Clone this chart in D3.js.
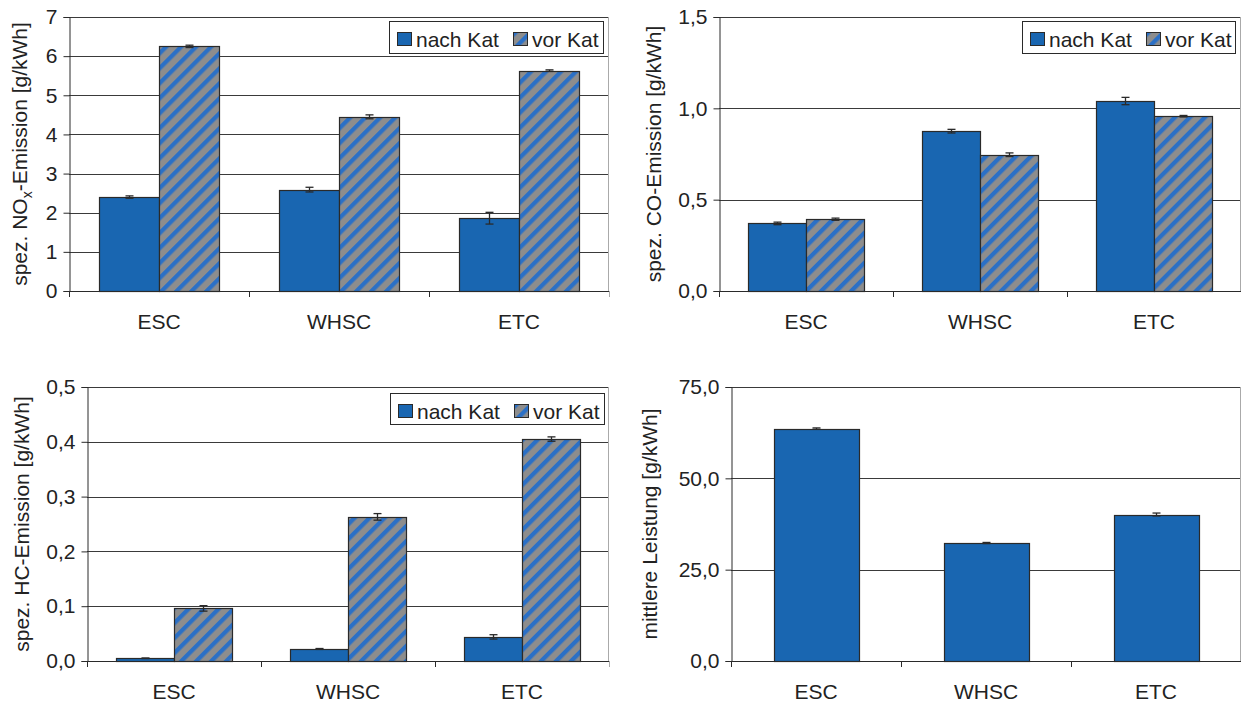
<!DOCTYPE html>
<html>
<head>
<meta charset="utf-8">
<script src="https://cdn.jsdelivr.net/npm/d3@7"></script>
<style>
  html, body { margin: 0; padding: 0; background: #fff; }
  svg text { font-family: "Liberation Sans", Arial, sans-serif; fill: #222; }
</style>
</head>
<body>
<svg id="chart" width="1241" height="704"></svg>
<script>
// ---------- data ----------
const categories = ["ESC", "WHSC", "ETC"];
const seriesNames = ["nach Kat", "vor Kat"];

const noxNach    = [2.40, 2.59, 1.86];
const noxNachErr = [0.03, 0.06, 0.15];
const noxVor     = [6.25, 4.45, 5.63];
const noxVorErr  = [0.03, 0.05, 0.02];

const coNach     = [0.370, 0.875, 1.040];
const coNachErr  = [0.007, 0.010, 0.020];
const coVor      = [0.393, 0.746, 0.957];
const coVorErr   = [0.006, 0.010, 0.004];

const hcNach     = [0.005, 0.022, 0.044];
const hcNachErr  = [0.0005, 0.0008, 0.004];
const hcVor      = [0.096, 0.263, 0.405];
const hcVorErr   = [0.005, 0.006, 0.004];

const power      = [63.6, 32.3, 40.1];
const powerErr   = [0.2, 0.15, 0.4];

const noxTicks   = [0, 1, 2, 3, 4, 5, 6, 7];
const coTicks    = [0, 0.5, 1.0, 1.5];
const hcTicks    = [0, 0.1, 0.2, 0.3, 0.4, 0.5];
const powerTicks = [0, 25, 50, 75];

// ---------- styling ----------
const BLUE = "#1966b1";
const GRAY = "#8d8d8d";
const STRIPE = "#2b70c6";
const FONT = 21;

const de = d3.formatLocale({decimal: ",", thousands: ".", grouping: [3], currency: ["", "€"]});
const f0 = d3.format("d");
const f1 = de.format(".1f");

const svg = d3.select("#chart");
const defs = svg.append("defs");
const pat = defs.append("pattern")
  .attr("id", "hatch")
  .attr("patternUnits", "userSpaceOnUse")
  .attr("width", 10.6).attr("height", 10.6)
  .attr("patternTransform", "rotate(45)");
pat.append("rect").attr("width", 10.6).attr("height", 10.6).attr("fill", GRAY);
pat.append("rect").attr("x", 0).attr("width", 4.3).attr("height", 10.6).attr("fill", STRIPE);

const fills = [BLUE, "url(#hatch)"];

function panel(opt) {
  const {left, right, top, bottom, ticks, fmt, title, series, errs, legend, titleX, single} = opt;
  const g = svg.append("g");
  const y = d3.scaleLinear().domain([0, ticks[ticks.length - 1]]).range([bottom, top]);
  const x = d3.scaleBand().domain(categories).range([left, right]).padding(0);
  const W = x.bandwidth();

  // grid lines
  g.append("g").selectAll("line").data(ticks.slice(1)).join("line")
    .attr("x1", left).attr("x2", right)
    .attr("y1", d => Math.round(y(d)) + 0.5).attr("y2", d => Math.round(y(d)) + 0.5)
    .attr("stroke", "#3a3a3a").attr("stroke-width", 1);
  // right frame
  g.append("line").attr("x1", right - 0.5).attr("x2", right - 0.5)
    .attr("y1", top).attr("y2", bottom).attr("stroke", "#aaa");

  // bars
  const inner = d3.scaleBand().domain(d3.range(series.length))
    .range(single ? [W / 4, W * 3 / 4] : [W / 6, W * 5 / 6]).padding(0);
  series.forEach((vals, si) => {
    const bw = inner.bandwidth();
    g.append("g").selectAll("rect").data(vals).join("rect")
      .attr("x", (d, i) => Math.round(x(categories[i]) + inner(si)) + 0.5)
      .attr("y", d => Math.round(y(d)) + 0.5)
      .attr("width", Math.round(bw))
      .attr("height", d => Math.round(y(0)) - Math.round(y(d)))
      .attr("fill", fills[si])
      .attr("stroke", "#2a2a2a").attr("stroke-width", 1.2);
    // error bars
    const eg = g.append("g").attr("stroke", "#2a2a2a").attr("stroke-width", 1.3);
    vals.forEach((d, i) => {
      const cx = Math.round(x(categories[i]) + inner(si) + bw / 2) + 0.5;
      const e = errs[si][i];
      const y1 = y(d + e), y2 = y(Math.max(0, d - e));
      eg.append("line").attr("x1", cx).attr("x2", cx).attr("y1", y1).attr("y2", y2);
      eg.append("line").attr("x1", cx - 4).attr("x2", cx + 4).attr("y1", y1).attr("y2", y1);
      eg.append("line").attr("x1", cx - 4).attr("x2", cx + 4).attr("y1", y2).attr("y2", y2);
    });
  });

  // y axis
  const ya = d3.axisLeft(y).tickValues(ticks).tickFormat(fmt).tickSize(6).tickPadding(6);
  const yg = g.append("g").attr("transform", `translate(${left + 0.5},0)`).call(ya);
  yg.select(".domain").attr("stroke", "#2a2a2a");
  yg.selectAll(".tick line").attr("stroke", "#2a2a2a");
  yg.selectAll(".tick text").attr("font-size", FONT).attr("fill", "#222")
    .attr("font-family", '"Liberation Sans", Arial, sans-serif');

  // x axis line + ticks at category boundaries
  const xg = g.append("g");
  xg.append("line").attr("x1", left).attr("x2", right)
    .attr("y1", Math.round(bottom) + 0.5).attr("y2", Math.round(bottom) + 0.5)
    .attr("stroke", "#2a2a2a");
  const bounds = categories.map(c => x(c)).concat([right]);
  xg.selectAll("line.tk").data(bounds).join("line").attr("class", "tk")
    .attr("x1", d => Math.round(d) + 0.5).attr("x2", d => Math.round(d) + 0.5)
    .attr("y1", bottom).attr("y2", bottom + 6)
    .attr("stroke", (d, i) => i === bounds.length - 1 ? "#aaa" : "#2a2a2a");
  xg.selectAll("text").data(categories).join("text")
    .attr("x", d => x(d) + W / 2).attr("y", bottom + 38)
    .attr("text-anchor", "middle").attr("font-size", FONT).text(d => d);

  // y title
  const t = g.append("text")
    .attr("transform", `translate(${titleX},${(top + bottom) / 2}) rotate(-90)`)
    .attr("text-anchor", "middle").attr("font-size", FONT);
  title.forEach(p => {
    const ts = t.append("tspan").text(p.t);
    if (p.sub) ts.attr("font-size", 14).attr("dy", 5);
    if (p.after) ts.attr("dy", -5);
  });

  // legend
  if (legend) {
    const lg = g.append("g").attr("transform", `translate(${legend.x},${legend.y})`);
    lg.append("rect").attr("x", 0.5).attr("y", 0.5).attr("width", legend.w).attr("height", legend.h)
      .attr("fill", "#fff").attr("stroke", "#2a2a2a");
    const offs = [8, 124];
    seriesNames.forEach((n, i) => {
      lg.append("rect").attr("x", offs[i] + 0.5).attr("y", 11.5).attr("width", 14).attr("height", 13)
        .attr("fill", fills[i]).attr("stroke", "#2a2a2a");
      lg.append("text").attr("x", offs[i] + 19).attr("y", 25.5).attr("font-size", FONT).text(n);
    });
  }
}

panel({left: 69, right: 609, top: 17, bottom: 291, ticks: noxTicks, fmt: f0,
  title: [{t: "spez. NO"}, {t: "x", sub: true}, {t: "-Emission [g/kWh]", after: true}],
  titleX: 27, series: [noxNach, noxVor], errs: [noxNachErr, noxVorErr],
  legend: {x: 389, y: 21, w: 214, h: 32}});

panel({left: 719, right: 1241, top: 17, bottom: 291, ticks: coTicks, fmt: f1,
  title: [{t: "spez. CO-Emission [g/kWh]"}],
  titleX: 661, series: [coNach, coVor], errs: [coNachErr, coVorErr],
  legend: {x: 1022, y: 21, w: 213, h: 32}});

panel({left: 87, right: 609, top: 387, bottom: 661, ticks: hcTicks, fmt: f1,
  title: [{t: "spez. HC-Emission [g/kWh]"}],
  titleX: 29, series: [hcNach, hcVor], errs: [hcNachErr, hcVorErr],
  legend: {x: 390, y: 393, w: 214, h: 31}});

panel({left: 731, right: 1241, top: 387, bottom: 661, ticks: powerTicks, fmt: f1,
  title: [{t: "mittlere Leistung [g/kWh]"}],
  titleX: 657, series: [power], errs: [powerErr], single: true});
</script>
</body>
</html>
